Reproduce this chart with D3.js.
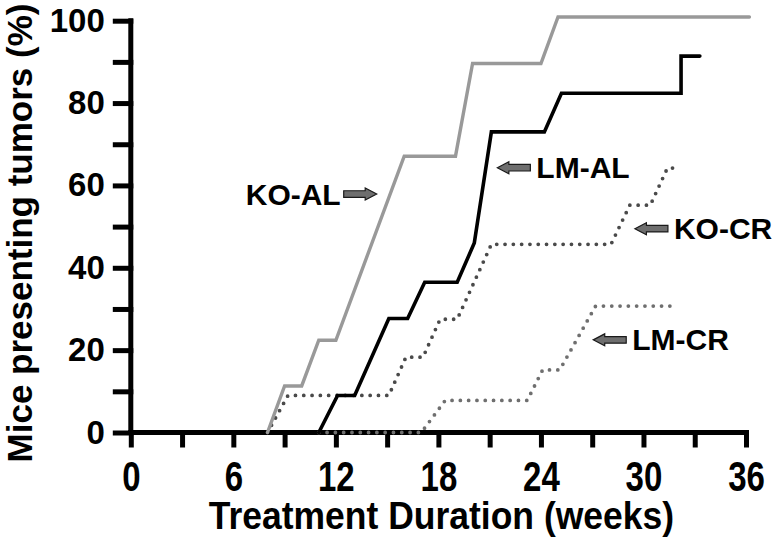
<!DOCTYPE html>
<html>
<head>
<meta charset="utf-8">
<script src="https://cdn.jsdelivr.net/npm/d3@7"></script>
<style>
  html, body { margin: 0; padding: 0; background: #fff; }
  svg { display: block; }
  text { font-family: "Liberation Sans", Arial, sans-serif; font-weight: bold; fill: #000; }
</style>
</head>
<body>
<svg id="chart" width="780" height="538"></svg>
<script>
// ---- data (weeks, % of mice presenting tumors) ----
const koAlWeeks = [8, 9, 10, 11, 12, 16, 19, 20, 24, 25, 36.2];
const koAlPct   = [0, 11.3, 11.3, 22.4, 22.4, 67.1, 67.1, 89.6, 89.6, 100.9, 100.9];

const lmAlWeeks = [11, 12.1, 13.1, 15.1, 16.2, 17.2, 19.1, 20.1, 21.1, 24.2, 25.2, 32.2, 32.2, 33.3];
const lmAlPct   = [0, 9.0, 9.0, 27.7, 27.7, 36.5, 36.5, 46.0, 73.0, 73.0, 82.4, 82.4, 91.4, 91.4];

const koCrWeeks = [8, 9.2, 15.1, 16.1, 17.1, 18.1, 19.1, 21.1, 28.1, 29.2, 30.4, 31.4, 31.9];
const koCrPct   = [0, 9.0, 9.0, 18.3, 18.3, 27.5, 27.5, 45.7, 45.7, 55.2, 55.2, 64.2, 64.2];

const lmCrWeeks = [11, 17, 18.4, 23.2, 24.1, 25.1, 27.2, 32];
const lmCrPct   = [0, 0, 7.8, 7.8, 15.2, 15.2, 30.7, 30.7];

const xTickValues = [0, 3, 6, 9, 12, 15, 18, 21, 24, 27, 30, 33, 36];
const xTickLabels = ["0", "", "6", "", "12", "", "18", "", "24", "", "30", "", "36"];
const yTickValues = [0, 10, 20, 30, 40, 50, 60, 70, 80, 90, 100];
const yTickLabels = ["0", "", "20", "", "40", "", "60", "", "80", "", "100"];

const xTitle = "Treatment Duration (weeks)";
const yTitle = "Mice presenting tumors (%)";

// annotations: label text, arrow tip (week, %), arrow direction (+1 right, -1 left)
const annLabels = ["KO-AL", "LM-AL", "KO-CR", "LM-CR"];
const annWeek   = [14.39, 21.45, 29.5, 27.06];
const annPct    = [57.9, 64.3, 49.5, 22.5];
const annDir    = [1, -1, -1, -1];

// ---- drawing ----
const svg = d3.select("#chart");
const x = d3.scaleLinear().domain([0, 36]).range([130.8, 746]);
const y = d3.scaleLinear().domain([0, 100]).range([432.5, 20.7]);

const axisWidth = 5;

// X axis
const xAxis = d3.axisBottom(x)
  .tickValues(xTickValues)
  .tickFormat((d, i) => xTickLabels[i])
  .tickSizeInner(15).tickSizeOuter(0).tickPadding(12);
const gx = svg.append("g").attr("transform", `translate(0,${y(0)})`).call(xAxis);
gx.select(".domain").attr("stroke", "#000").attr("stroke-width", axisWidth)
  .attr("d", `M${x(0) - 2.5},0H${x(36) + 2.5}`);
gx.selectAll(".tick line").attr("stroke", "#000").attr("stroke-width", axisWidth)
  .attr("y1", -2.5);
// condensed, tall digits: scale glyphs vertically around the baseline
gx.selectAll(".tick text")
  .style("font-family", '"Liberation Sans", Arial, sans-serif')
  .style("font-weight", "bold").attr("font-size", 33).attr("fill", "#000")
  .attr("y", null).attr("dy", null)
  .attr("transform", "translate(0,58.5) scale(1,1.27)");

// Y axis
const yAxis = d3.axisLeft(y)
  .tickValues(yTickValues)
  .tickFormat((d, i) => yTickLabels[i])
  .tickSizeInner(18).tickSizeOuter(0).tickPadding(8);
const gy = svg.append("g").attr("transform", `translate(${x(0)},0)`).call(yAxis);
gy.select(".domain").attr("stroke", "#000").attr("stroke-width", axisWidth)
  .attr("d", `M0,${y(100) - 2.5}V${y(0) + 2.5}`);
gy.selectAll(".tick line").attr("stroke", "#000").attr("stroke-width", axisWidth).attr("x1", 2.5);
gy.selectAll(".tick text")
  .style("font-family", '"Liberation Sans", Arial, sans-serif')
  .style("font-weight", "bold").attr("font-size", 33).attr("fill", "#000");

// Axis titles
svg.append("text")
  .attr("transform", `translate(${(x(0) + x(36)) / 2 + 3},529) scale(1,1.1)`)
  .attr("text-anchor", "middle").attr("font-size", 35.5)
  .text(xTitle);
svg.append("text")
  .attr("transform", `translate(32,${233}) rotate(-90)`)
  .attr("text-anchor", "middle").attr("font-size", 35)
  .text(yTitle);

// Series
const line = d3.line().x(d => x(d[0])).y(d => y(d[1]));
const zip = (a, b) => a.map((v, i) => [v, b[i]]);

svg.append("path").datum(zip(lmCrWeeks, lmCrPct))
  .attr("d", line).attr("fill", "none")
  .attr("stroke", "#6f6f6f").attr("stroke-width", 3.8)
  .attr("stroke-linecap", "round").attr("stroke-dasharray", "0 8.3");

svg.append("path").datum(zip(koCrWeeks, koCrPct))
  .attr("d", line).attr("fill", "none")
  .attr("stroke", "#4a4a4a").attr("stroke-width", 3.8)
  .attr("stroke-linecap", "round").attr("stroke-dasharray", "0 8.3");

svg.append("path").datum(zip(koAlWeeks, koAlPct))
  .attr("d", line).attr("fill", "none")
  .attr("stroke", "#999999").attr("stroke-width", 3.4)
  .attr("stroke-linejoin", "miter").attr("stroke-linecap", "round");

svg.append("path").datum(zip(lmAlWeeks, lmAlPct))
  .attr("d", line).attr("fill", "none")
  .attr("stroke", "#000").attr("stroke-width", 3.6)
  .attr("stroke-linejoin", "miter").attr("stroke-linecap", "round");

// Annotations (block arrows + labels)
const arrowLen = 33, headLen = 11.5, headHalf = 6, shaftHalf = 3.3;
annLabels.forEach((lab, i) => {
  const tx = x(annWeek[i]), ty = y(annPct[i]), d = annDir[i];
  const pts = [[0, 0], [-headLen, -headHalf], [-headLen, -shaftHalf], [-arrowLen, -shaftHalf],
               [-arrowLen, shaftHalf], [-headLen, shaftHalf], [-headLen, headHalf]];
  const p = "M" + pts.map(q => `${tx + d * q[0]},${ty + q[1]}`).join("L") + "Z";
  svg.append("path").attr("d", p).attr("fill", "#6e6e6e")
    .attr("stroke", "#1a1a1a").attr("stroke-width", 1.2).attr("stroke-linejoin", "miter");
  const tailX = tx - d * arrowLen;
  svg.append("text")
    .attr("x", d > 0 ? tailX - 3 : tailX + 6)
    .attr("y", ty + 10.5)
    .attr("text-anchor", d > 0 ? "end" : "start")
    .attr("font-size", 30)
    .text(lab);
});
</script>
</body>
</html>
